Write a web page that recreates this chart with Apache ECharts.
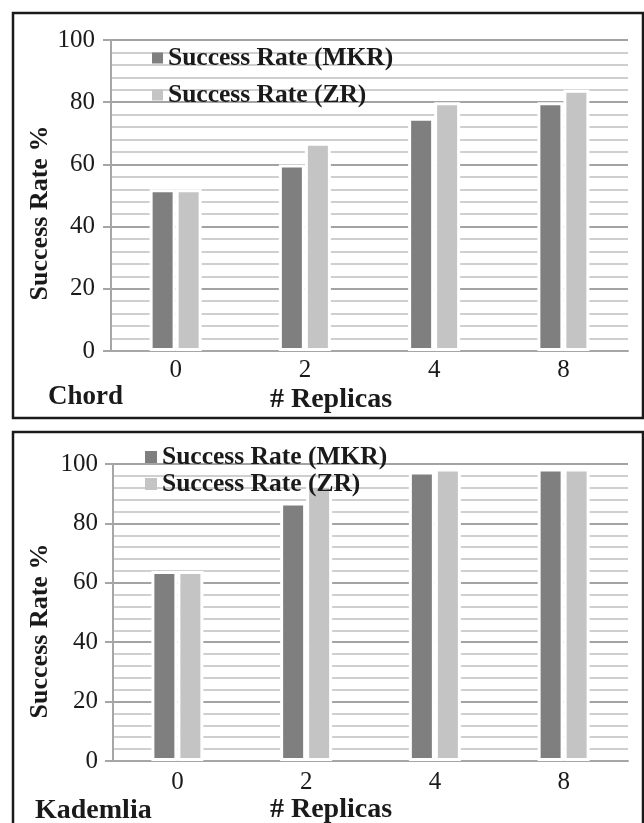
<!DOCTYPE html>
<html>
<head>
<meta charset="utf-8">
<script src="https://cdn.jsdelivr.net/npm/echarts@6/dist/echarts.min.js"></script>
<style>
html,body{margin:0;padding:0;background:#fff;}
#chart{width:644px;height:823px;}
</style>
</head>
<body>
<div id="chart"></div>
<script>
// Data
var categories = ['0', '2', '4', '8'];
var seriesNames = ['Success Rate (MKR)', 'Success Rate (ZR)'];
var chordMKR = [52, 60, 75, 80];
var chordZR = [52, 67, 80, 84];
var kademliaMKR = [64, 87, 97.5, 98.5];
var kademliaZR = [64, 93, 98.5, 98.5];
var yTicks = [0, 20, 40, 60, 80, 100];
var panelLabels = ['Chord', 'Kademlia'];
var xAxisTitle = '# Replicas';
var yAxisTitle = 'Success Rate %';

var FONT = 'Liberation Serif';
var DARK = '#7f7f7f', LIGHT = '#c4c4c4';

function xAxis(gridIndex, margin) {
  return {
    type: 'category', gridIndex: gridIndex, data: categories,
    axisLine: {lineStyle: {color: '#a6a6a6', width: 2}},
    axisTick: {show: false},
    axisLabel: {fontFamily: FONT, fontSize: 25, color: '#1a1a1a', margin: margin}
  };
}
function yAxis(gridIndex, margin) {
  return {
    type: 'value', gridIndex: gridIndex, min: yTicks[0], max: yTicks[yTicks.length - 1], interval: 20,
    axisLine: {show: true, lineStyle: {color: '#a6a6a6', width: 2}},
    axisTick: {show: true, length: 8, lineStyle: {color: '#a6a6a6', width: 2}},
    axisLabel: {fontFamily: FONT, fontSize: 25, color: '#1a1a1a', margin: margin},
    splitLine: {show: true, lineStyle: {color: '#a3a3a3', width: 2}},
    minorTick: {show: false, splitNumber: 5},
    minorSplitLine: {show: true, lineStyle: {color: '#cfcfcf', width: 2}}
  };
}
function bar(name, data, idx, color) {
  return {
    name: name, type: 'bar', xAxisIndex: idx, yAxisIndex: idx, data: data,
    barWidth: 26, barGap: '0%',
    itemStyle: {color: color, borderColor: '#ffffff', borderWidth: 3},
    emphasis: {disabled: true}, z: 3
  };
}
function legend(top, left, gap, size) {
  return {
    orient: 'vertical', top: top, left: left, padding: 0,
    itemWidth: size, itemHeight: size, itemGap: gap, icon: 'rect',
    data: seriesNames,
    itemStyle: {borderWidth: 0},
    textStyle: {fontFamily: FONT, fontWeight: 'bold', fontSize: 25.5, color: '#1a1a1a', lineHeight: 26}
  };
}
var titleStyle = {fontFamily: FONT, fontWeight: 'bold', fontSize: 27, fill: '#1a1a1a'};

var chart = echarts.init(document.getElementById('chart'), null, {renderer: 'canvas'});
chart.setOption({
  animation: false,
  backgroundColor: '#ffffff',
  grid: [
    {left: 111, right: 16, top: 40, height: 311},
    {left: 113, right: 16, top: 464, height: 297}
  ],
  xAxis: [xAxis(0, 7), xAxis(1, 9)],
  yAxis: [yAxis(0, 16), yAxis(1, 15)],
  legend: [legend(45, 152, 11, 11), legend(444, 145, 1, 12)],
  series: [
    bar(seriesNames[0], chordMKR, 0, DARK),
    bar(seriesNames[1], chordZR, 0, LIGHT),
    bar(seriesNames[0], kademliaMKR, 1, DARK),
    bar(seriesNames[1], kademliaZR, 1, LIGHT)
  ],
  graphic: [
    {type: 'rect', shape: {x: 13, y: 13, width: 630, height: 405}, style: {fill: 'none', stroke: '#1a1a1a', lineWidth: 2.5}, z: 10},
    {type: 'rect', shape: {x: 13, y: 432, width: 630, height: 420}, style: {fill: 'none', stroke: '#1a1a1a', lineWidth: 2.5}, z: 10},
    {type: 'text', x: 48, y: 397, style: Object.assign({text: panelLabels[0], verticalAlign: 'middle'}, titleStyle, {fontSize: 27})},
    {type: 'text', x: 35, y: 811, style: Object.assign({text: panelLabels[1], verticalAlign: 'middle'}, titleStyle, {fontSize: 28})},
    {type: 'text', x: 331, y: 400, style: Object.assign({text: xAxisTitle, align: 'center', verticalAlign: 'middle'}, titleStyle, {fontSize: 28})},
    {type: 'text', x: 331, y: 810, style: Object.assign({text: xAxisTitle, align: 'center', verticalAlign: 'middle'}, titleStyle, {fontSize: 28})},
    {type: 'text', x: 40, y: 213, rotation: Math.PI / 2, style: Object.assign({text: yAxisTitle, align: 'center', verticalAlign: 'middle'}, titleStyle, {fontSize: 26})},
    {type: 'text', x: 40, y: 631, rotation: Math.PI / 2, style: Object.assign({text: yAxisTitle, align: 'center', verticalAlign: 'middle'}, titleStyle, {fontSize: 26})}
  ]
});
</script>
</body>
</html>
